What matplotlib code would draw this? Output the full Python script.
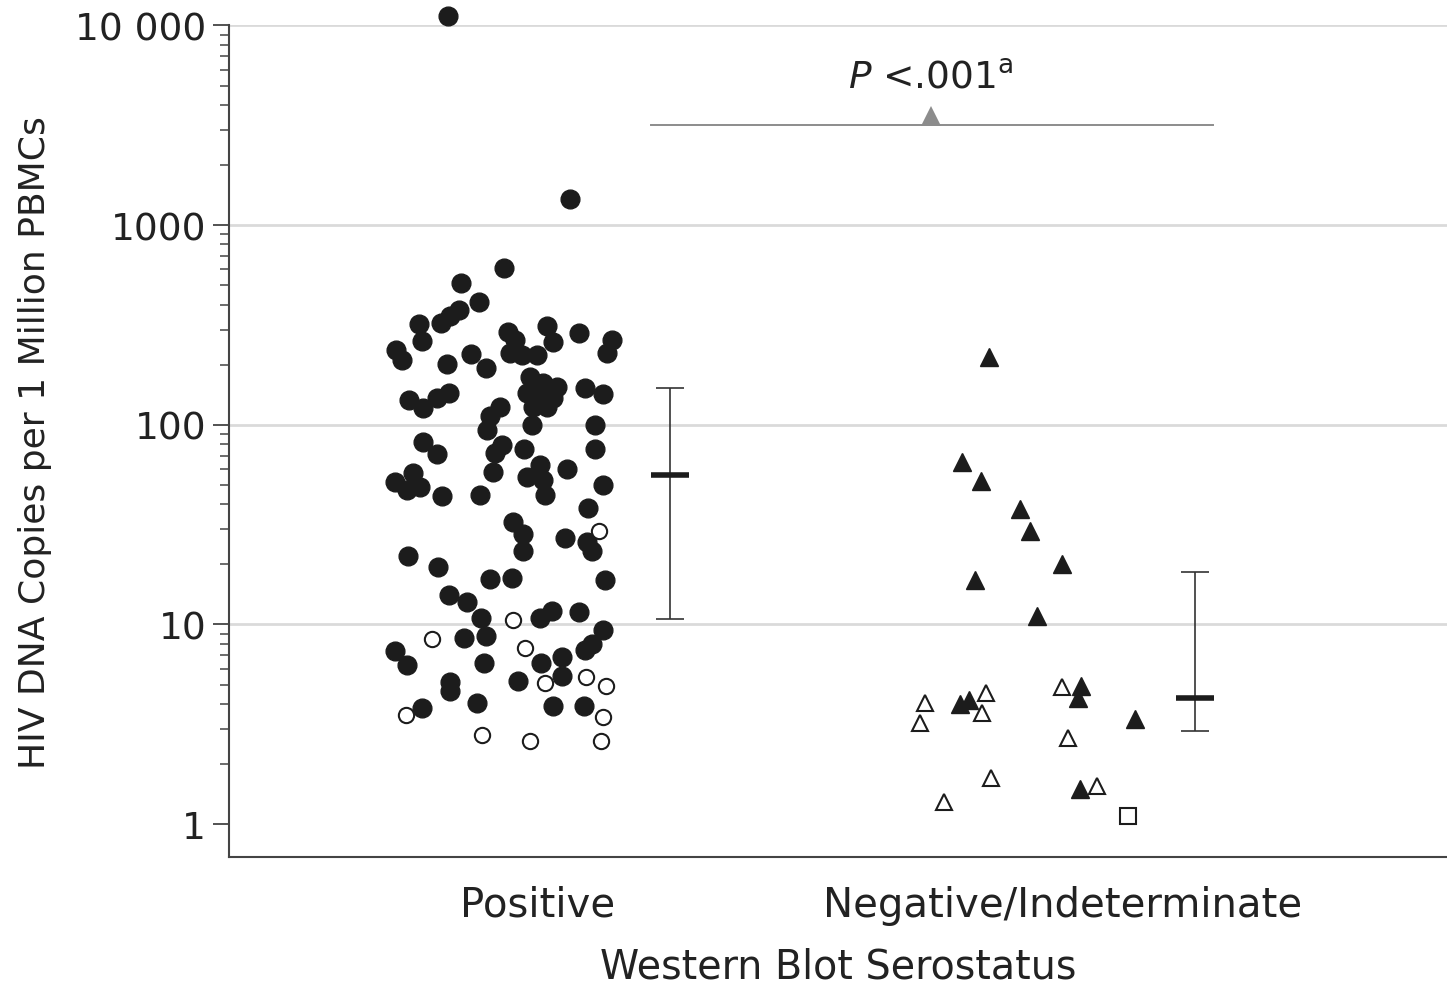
import matplotlib
matplotlib.use('Agg')
import matplotlib.pyplot as plt
from matplotlib.ticker import FixedLocator, NullFormatter

# data (HIV DNA copies per 1 million PBMCs)
categories = ['Positive', 'Negative/Indeterminate']

pos_filled_vals = [11100, 1350, 610, 513, 412, 320, 263, 324, 351, 376,
                   237, 211, 202, 226, 193, 292, 266, 229, 224, 224,
                   313, 260, 288, 266, 229, 174, 162, 155, 145, 138,
                   136, 123, 123, 153, 143, 133, 122, 136, 145, 123,
                   110, 94.4, 100, 100, 82.2, 71.6, 79.4, 72.4, 58.2, 75.9,
                   75.9, 63.1, 55.0, 53.1, 44.7, 60.3, 57.5, 51.9, 47.3, 49.0,
                   44.2, 44.7, 50.1, 38.5, 32.7, 28.5, 23.2, 27.2, 26.0, 23.2,
                   21.9, 19.5, 16.8, 17.0, 16.6, 14.0, 12.9, 10.8, 10.8, 11.7,
                   11.5, 9.33, 7.94, 7.41, 8.51, 8.71, 7.33, 6.24, 6.38, 6.38,
                   6.84, 5.13, 4.62, 5.19, 5.50, 4.03, 3.80, 3.89, 3.89]
pos_filled_jit = [-0.170, 0.063, -0.063, -0.145, -0.110, -0.225, -0.219, -0.183, -0.166, -0.149,
                  -0.269, -0.257, -0.171, -0.126, -0.097, -0.055, -0.042, -0.051, -0.029, 0.000,
                  0.019, 0.030, 0.080, 0.143, 0.133, -0.013, 0.011, 0.038, -0.019, 0.006,
                  0.030, -0.008, 0.019, 0.091, 0.126, -0.244, -0.217, -0.190, -0.168, -0.070,
                  -0.090, -0.095, -0.010, 0.110, -0.217, -0.190, -0.067, -0.080, -0.084, -0.025,
                  0.110, 0.006, -0.019, 0.011, 0.015, 0.057, -0.236, -0.270, -0.248, -0.223,
                  -0.181, -0.109, 0.126, 0.097, -0.046, -0.027, -0.027, 0.053, 0.095, 0.105,
                  -0.246, -0.189, -0.090, -0.048, 0.130, -0.168, -0.133, -0.107, 0.006, 0.029,
                  0.080, 0.126, 0.105, 0.091, -0.139, -0.097, -0.270, -0.248, -0.101, 0.008,
                  0.048, -0.166, -0.166, -0.036, 0.048, -0.114, -0.219, 0.030, 0.090]

pos_open_vals = [29.5, 10.5, 8.41, 7.59, 5.07, 5.43, 4.90, 3.51, 3.43, 2.79, 2.60, 2.60]
pos_open_jit = [0.118, -0.046, -0.200, -0.023, 0.015, 0.093, 0.131, -0.250, 0.126, -0.105, -0.013, 0.122]

neg_filled_vals = [219, 65.3, 52.5, 38.0, 29.2, 20.0, 16.6, 11.0, 3.98, 4.17, 4.90, 4.27, 3.35, 1.50]
neg_filled_jit = [-0.139, -0.190, -0.154, -0.080, -0.061, 0.000, -0.166, -0.048, -0.194, -0.177,
                  0.036, 0.030, 0.139, 0.034]

neg_open_vals = [4.03, 3.20, 4.52, 3.59, 4.84, 2.69, 1.70, 1.29, 1.55]
neg_open_jit = [-0.261, -0.270, -0.145, -0.152, 0.000, 0.011, -0.135, -0.225, 0.067]

neg_square_vals = [1.10]
neg_square_jit = [0.126]

medians = [56.2, 4.27]
lower = [10.6, 2.92]
upper = [153, 18.2]
summary_offset = 0.253

grid_levels = [10, 100, 1000, 10000]
ytick_vals = [1, 10, 100, 1000, 10000]
ytick_labels = ['1', '10', '100', '1000', '10 000']

p_text = r'$\it{P}$ <.001$^{\rm a}$'
p_line_y = 3162
p_line_x = [0.217, 1.288]
p_mark_x = 0.75

plt.rcParams['font.family'] = ['DejaVu Sans']
ink = '#1c1c1c'
axis_col = '#444444'

fig = plt.figure(figsize=(14.47, 9.87), dpi=100)
ax = fig.add_axes([0.1583, 0.1307, 0.8417, 0.8425])
ax.set_yscale('log')
ax.set_ylim(0.684, 10000)
ax.set_xlim(-0.587, 1.733)

for g in grid_levels:
    ax.axhline(g, color='#dadada', lw=2, zorder=0)

# positive group
ax.plot([0 + j for j in pos_filled_jit], pos_filled_vals, 'o', ms=13.5, mfc=ink, mec=ink,
        mew=1, ls='none', clip_on=False, zorder=3)
ax.plot([0 + j for j in pos_open_jit], pos_open_vals, 'o', ms=11, mfc='white', mec=ink,
        mew=1.5, ls='none', zorder=3)

# negative / indeterminate group
ax.plot([1 + j for j in neg_filled_jit], neg_filled_vals, '^', ms=13.5, mfc=ink, mec=ink,
        mew=1, ls='none', zorder=3)
ax.plot([1 + j for j in neg_open_jit], neg_open_vals, '^', ms=11.5, mfc='white', mec=ink,
        mew=1.5, ls='none', zorder=3)
ax.plot([1 + j for j in neg_square_jit], neg_square_vals, 's', ms=11, mfc='white', mec=ink,
        mew=1.5, ls='none', zorder=3)

# median and range bars
for i in range(len(categories)):
    xs = i + summary_offset
    ax.errorbar(xs, medians[i],
                yerr=[[medians[i] - lower[i]], [upper[i] - medians[i]]],
                fmt='none', ecolor='#333333', elinewidth=1.2, capsize=10, capthick=1.2, zorder=4)
    ax.plot(xs, medians[i], marker='_', ms=27, mew=4, color='#1c1c1c', zorder=5)

# significance bracket
ax.plot(p_line_x, [p_line_y, p_line_y], color='#8c8c8c', lw=1.4, zorder=2)
ax.plot(p_mark_x, p_line_y * 1.11, marker='^', ms=15, color='#8c8c8c', mew=0, zorder=3)
ax.text(p_mark_x, p_line_y * 1.41, p_text, ha='center', va='bottom', fontsize=27, color='#222222')

ax.spines['top'].set_visible(False)
ax.spines['right'].set_visible(False)
for s in ['left', 'bottom']:
    ax.spines[s].set_color(axis_col)
    ax.spines[s].set_linewidth(1.5)

ax.yaxis.set_major_locator(FixedLocator(ytick_vals))
ax.set_yticklabels(ytick_labels)
minor = [m * 10 ** e for e in range(4) for m in range(2, 10)]
ax.yaxis.set_minor_locator(FixedLocator(minor))
ax.yaxis.set_minor_formatter(NullFormatter())
ax.tick_params(axis='y', which='major', length=11.5, width=1.3, color=axis_col,
               labelsize=27, labelcolor='#222222', pad=5)
ax.tick_params(axis='y', which='minor', length=6.5, width=1.1, color=axis_col)

ax.set_xticks([0, 1])
ax.set_xticklabels(categories)
ax.tick_params(axis='x', length=0, labelsize=29, labelcolor='#222222', pad=20)

ax.set_xlabel('Western Blot Serostatus', fontsize=28.5, color='#222222', labelpad=16)
ax.set_ylabel('HIV DNA Copies per 1 Million PBMCs', fontsize=26, color='#222222')
ax.yaxis.set_label_coords(-0.145, 0.5)

fig.savefig('out.png', dpi=100)
